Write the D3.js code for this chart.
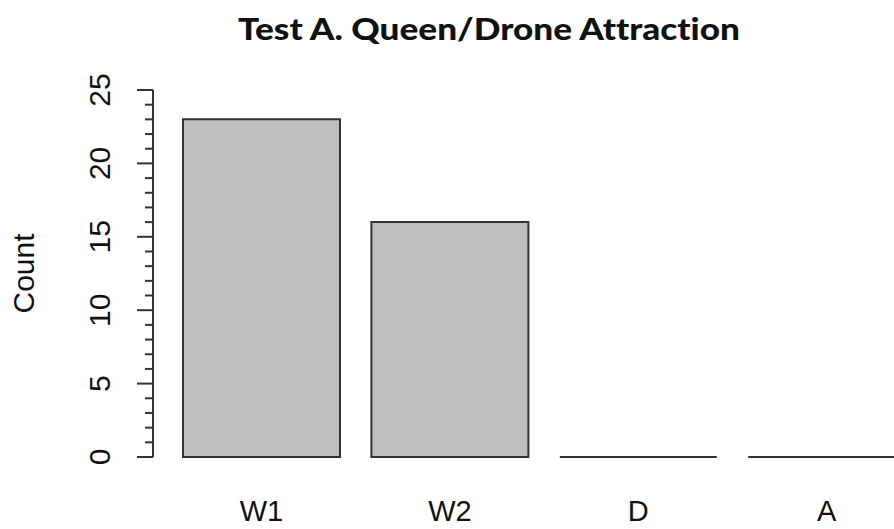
<!DOCTYPE html>
<html>
<head>
<meta charset="utf-8">
<script src="https://cdn.jsdelivr.net/npm/d3@7"></script>
<style>
  body { margin: 0; background: #fff; }
  text { font-family: "Liberation Sans", Arial, sans-serif; fill: #111; }
</style>
</head>
<body>
<div id="chart"></div>
<script>
// data
var categories = ["W1", "W2", "D", "A"];
var counts = [23, 16, 0, 0];
var majorTicks = [0, 5, 10, 15, 20, 25];
var minorTicks = d3.range(0, 26);

var width = 894, height = 529;

var svg = d3.select("#chart")
	.append("svg")
	.attr("width", width)
	.attr("height", height);

// y scale: 0 -> 457, 25 -> 90
var y = d3.scaleLinear().domain([0, 25]).range([457, 90]);

// bars like R barplot (space 0.2), right side runs off the picture
var x = d3.scaleBand()
	.domain(categories)
	.range([151.6, 936.6])
	.paddingInner(0.2 / 1.2)
	.paddingOuter(0.2 / 1.2);

// title
svg.append("text")
	.attr("x", 489)
	.attr("y", 40)
	.attr("text-anchor", "middle")
	.style("font-family", "Lato, 'Open Sans', sans-serif")
	.style("font-weight", "900")
	.style("font-variant-ligatures", "none")
	.style("font-feature-settings", "'liga' 0, 'dlig' 0")
	.style("font-size", "31px")
	.attr("textLength", 502)
	.attr("lengthAdjust", "spacingAndGlyphs")
	.text("Test A. Queen/Drone Attraction");

// y axis line
var axisX = 153;
svg.append("line")
	.attr("x1", axisX).attr("x2", axisX)
	.attr("y1", y(0)).attr("y2", y(25))
	.attr("stroke", "#333").attr("stroke-width", 2);

// minor ticks
svg.selectAll(".minor")
	.data(minorTicks.filter(function(d){ return d % 5 != 0; }))
	.enter().append("line")
	.attr("x1", axisX - 8).attr("x2", axisX)
	.attr("y1", function(d){ return y(d); })
	.attr("y2", function(d){ return y(d); })
	.attr("stroke", "#333").attr("stroke-width", 2);

// major ticks
svg.selectAll(".major")
	.data(majorTicks)
	.enter().append("line")
	.attr("x1", axisX - 16).attr("x2", axisX)
	.attr("y1", function(d){ return y(d); })
	.attr("y2", function(d){ return y(d); })
	.attr("stroke", "#333").attr("stroke-width", 2);

// tick labels (rotated, like R)
svg.selectAll(".ylab")
	.data(majorTicks)
	.enter().append("text")
	.attr("text-anchor", "middle")
	.style("font-size", "30px")
	.attr("transform", function(d){ return "translate(110," + y(d) + ") rotate(-90)"; })
	.text(function(d){ return d; });

// y title
svg.append("text")
	.attr("text-anchor", "middle")
	.style("font-size", "30px")
	.attr("transform", "translate(34," + ((y(0) + y(25)) / 2) + ") rotate(-90)")
	.text("Count");

// bars as paths so zero-height ones still draw as a line
svg.selectAll(".bar")
	.data(categories)
	.enter().append("path")
	.attr("d", function(d, i){
		var x0 = x(d), x1 = x(d) + x.bandwidth();
		return "M" + x0 + "," + y(0) + "V" + y(counts[i]) + "H" + x1 + "V" + y(0) + "Z";
	})
	.attr("fill", "#bebebe")
	.attr("stroke", "#333")
	.attr("stroke-width", 2);

// category labels
svg.selectAll(".xlab")
	.data(categories)
	.enter().append("text")
	.attr("x", function(d){ return x(d) + x.bandwidth() / 2; })
	.attr("y", 521)
	.attr("text-anchor", "middle")
	.style("font-size", "29px")
	.text(function(d){ return d; });
</script>
</body>
</html>
